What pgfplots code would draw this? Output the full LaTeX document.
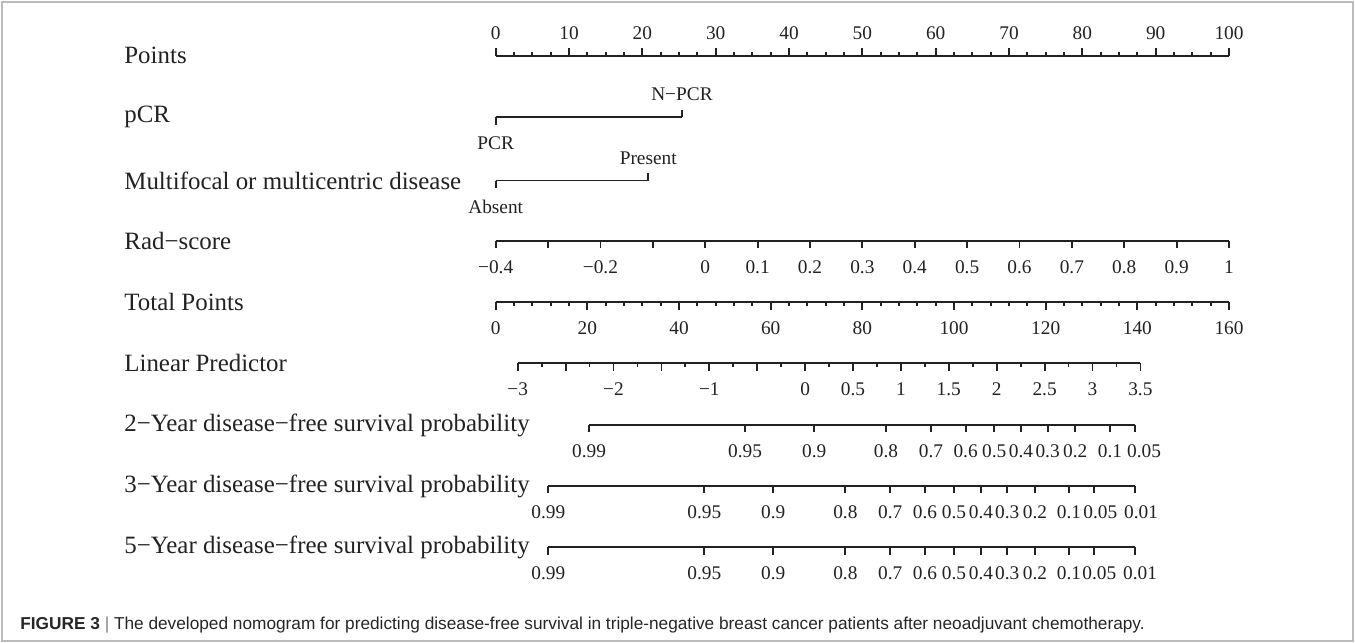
\documentclass[border=0pt]{standalone}
\usepackage{fontspec}
\setmainfont{Liberation Serif}
\newfontfamily\capfont{Liberation Sans}
\usepackage{pgfplots}
\pgfplotsset{compat=1.18}
\definecolor{axcol}{HTML}{222222}
\definecolor{framecol}{HTML}{BBBBBB}
\newcommand\namefont{\fontsize{12.5}{14}\selectfont}
\newcommand\ticfont{\fontsize{9.7}{11}\selectfont}

% one nomogram scale = one axis with only its x line shown
\pgfplotsset{
  nomo/.style={scale only axis, height=1bp, ymin=0, ymax=1,
    axis y line=none, clip=false,
    tick style={line width=0.9bp, draw=axcol},
    major tick length=3.6bp, minor tick length=1.8bp,
    xticklabel style={font=\ticfont, text=axcol},
  },
  noarrow/.style={
    axis line style={-, line width=0.9bp, draw=axcol},
    every outer x axis line/.append style={-},
    every inner x axis line/.append style={-},
    x axis line style={-},
    xtick align=outside,
  },
  nomobot/.style={nomo, axis x line=bottom, noarrow, anchor=south west, xticklabel shift=2.7bp},
  nomotop/.style={nomo, axis x line=top, noarrow, anchor=north west, xticklabel shift=1bp},
}

\begin{document}
\begin{tikzpicture}
\useasboundingbox (0,0) rectangle (677.5bp,-321.5bp);
\draw[framecol, line width=0.8bp] (1bp,-1bp) rectangle (676.5bp,-320.5bp);

% Points
\begin{axis}[nomotop, at={(247.85bp,-27.85bp)}, width=366.65bp, xmin=0, xmax=100,
  xtick={0,10,...,100}, minor x tick num=3,
  xticklabels={0,10,20,30,40,50,60,70,80,90,100}]
\end{axis}

% pCR
\begin{axis}[nomobot, at={(247.85bp,-58.65bp)}, width=93.13bp, xmin=0, xmax=25.4,
  xtick={0}, xticklabels={PCR}]
\end{axis}
\begin{axis}[nomotop, at={(247.85bp,-58.65bp)}, width=93.13bp, xmin=0, xmax=25.4,
  xtick={25.4}, xticklabels={N−PCR}]
\end{axis}

% Multifocal or multicentric disease
\begin{axis}[nomobot, at={(247.85bp,-90.25bp)}, width=76.27bp, xmin=0, xmax=20.8,
  xtick={0}, xticklabels={Absent}]
\end{axis}
\begin{axis}[nomotop, at={(247.85bp,-90.25bp)}, width=76.27bp, xmin=0, xmax=20.8,
  xtick={20.8}, xticklabels={Present}]
\end{axis}

% Rad-score
\begin{axis}[nomobot, at={(247.85bp,-120.35bp)}, width=366.65bp, xmin=-0.4, xmax=1,
  xtick={-0.4,-0.3,-0.2,-0.1,0,0.1,0.2,0.3,0.4,0.5,0.6,0.7,0.8,0.9,1},
  xticklabels={−0.4,,−0.2,,0,0.1,0.2,0.3,0.4,0.5,0.6,0.7,0.8,0.9,1}]
\end{axis}

% Total Points
\begin{axis}[nomobot, at={(247.85bp,-151.15bp)}, width=366.65bp, xmin=0, xmax=160,
  xtick={0,20,...,160}, minor x tick num=4,
  xticklabels={0,20,40,60,80,100,120,140,160}]
\end{axis}

% Linear Predictor
\begin{axis}[nomobot, at={(258.85bp,-181.65bp)}, width=311.35bp, xmin=-3, xmax=3.5,
  xtick={-3,-2.5,-2,-1.5,-1,-0.5,0,0.5,1,1.5,2,2.5,3,3.5}, minor x tick num=1,
  xticklabels={−3,,−2,,−1,,0,0.5,1,1.5,2,2.5,3,3.5}]
\end{axis}

% 2-Year DFS (positions in linear predictor units)
\begin{axis}[nomobot, at={(294.5bp,-212.5bp)}, width=273bp, xmin=-2.256, xmax=3.444,
  xtick={-2.256,-0.627,0.096,0.844,1.314,1.676,1.975,2.254,2.532,2.820,3.183},
  xticklabels={0.99,0.95,0.9,0.8,0.7,0.6,0.5,0.4,0.3,0.2,0.1},
  extra x ticks={3.444}, extra x tick labels={0.05},
  extra x tick style={xticklabel style={xshift=4.5bp}}]
\end{axis}

% 3-Year DFS
\begin{axis}[nomobot, at={(274.15bp,-243bp)}, width=293.35bp, xmin=-2.681, xmax=3.444,
  xtick={-2.681,-1.052,-0.332,0.420,0.889,1.252,1.554,1.836,2.111,2.400,2.755},
  xticklabels={0.99,0.95,0.9,0.8,0.7,0.6,0.5,0.4,0.3,0.2,0.1},
  extra x ticks={3.019,3.444}, extra x tick labels={0.05,0.01},
  extra x tick style={xticklabel style={xshift=3bp}}]
\end{axis}

% 5-Year DFS
\begin{axis}[nomobot, at={(274.15bp,-273.65bp)}, width=293.35bp, xmin=-2.681, xmax=3.444,
  xtick={-2.681,-1.052,-0.332,0.420,0.889,1.252,1.554,1.836,2.111,2.400,2.755},
  xticklabels={0.99,0.95,0.9,0.8,0.7,0.6,0.5,0.4,0.3,0.2,0.1},
  extra x ticks={3.019,3.444}, extra x tick labels={0.05,0.01},
  extra x tick style={xticklabel style={xshift=2.5bp}}]
\end{axis}

% variable names
\begin{scope}[every node/.style={anchor=west, inner sep=0pt, font=\namefont, text=axcol}]
\node at (62bp,-27.85bp) {Points};
\node at (62bp,-58.65bp) {pCR};
\node at (62bp,-90.25bp) {Multifocal or multicentric disease};
\node at (62bp,-120.35bp) {Rad−score};
\node at (62bp,-151.15bp) {Total Points};
\node at (62bp,-181.65bp) {Linear Predictor};
\node at (62bp,-212.5bp) {2−Year disease−free survival probability};
\node at (62bp,-243bp) {3−Year disease−free survival probability};
\node at (62bp,-273.65bp) {5−Year disease−free survival probability};
\end{scope}

% caption
\node[anchor=west, inner sep=0pt, font=\capfont\fontsize{8.66}{10}\selectfont, text=black!85]
  at (10bp,-312.5bp) {\textbf{FIGURE 3} {\color{gray}|} The developed nomogram for predicting disease-free survival in triple-negative breast cancer patients after neoadjuvant chemotherapy.};
\end{tikzpicture}
\end{document}
